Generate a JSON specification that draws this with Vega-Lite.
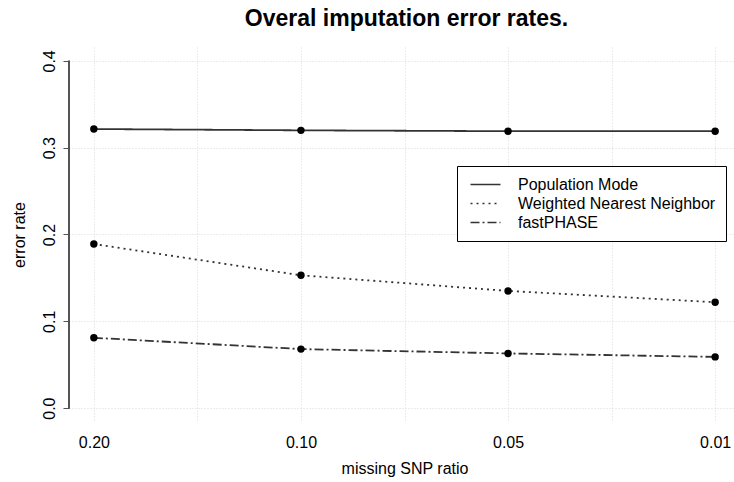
{
  "$schema": "https://vega.github.io/schema/vega-lite/v6.json",
  "autosize": "none",
  "width": 671,
  "height": 375,
  "padding": {"left": 69, "top": 47, "right": 0, "bottom": 60},
  "background": "white",
  "config": {
    "font": "Liberation Sans",
    "view": {"stroke": null},
    "axis": {"labelFont": "Liberation Sans", "titleFont": "Liberation Sans", "labelColor": "black", "titleColor": "black", "labelFontSize": 16, "titleFontSize": 16, "titleFontWeight": "normal"}
  },
  "title": {"text": "Overal imputation error rates.", "fontSize": 23, "fontWeight": "bold", "font": "Liberation Sans", "anchor": "middle", "offset": 16, "dx": 2, "color": "black"},
  "data": {"values": [
    {"idx": 1, "rate": 0.3215, "series": "Population Mode"},
    {"idx": 2, "rate": 0.3200, "series": "Population Mode"},
    {"idx": 3, "rate": 0.3190, "series": "Population Mode"},
    {"idx": 4, "rate": 0.3190, "series": "Population Mode"},
    {"idx": 1, "rate": 0.189, "series": "Weighted Nearest Neighbor"},
    {"idx": 2, "rate": 0.153, "series": "Weighted Nearest Neighbor"},
    {"idx": 3, "rate": 0.135, "series": "Weighted Nearest Neighbor"},
    {"idx": 4, "rate": 0.122, "series": "Weighted Nearest Neighbor"},
    {"idx": 1, "rate": 0.081, "series": "fastPHASE"},
    {"idx": 2, "rate": 0.068, "series": "fastPHASE"},
    {"idx": 3, "rate": 0.063, "series": "fastPHASE"},
    {"idx": 4, "rate": 0.059, "series": "fastPHASE"}
  ]},
  "layer": [
    {
      "mark": {"type": "rule", "color": "#555", "strokeWidth": 1},
      "encoding": {"x": {"datum": 0.88, "type": "quantitative"}, "y": {"datum": 0, "type": "quantitative"}, "y2": {"datum": 0.4}}
    },
    {
      "mark": {"type": "line", "color": "#333", "strokeWidth": 1.8},
      "encoding": {
        "x": {"field": "idx", "type": "quantitative",
          "scale": {"domain": [0.88, 4.12], "nice": false, "zero": false},
          "axis": {"values": [1, 1.5, 2, 2.5, 3, 3.5, 4], "domain": false, "ticks": false, "labelPadding": 12,
            "labelExpr": "datum.value == 1 ? '0.20' : datum.value == 2 ? '0.10' : datum.value == 3 ? '0.05' : datum.value == 4 ? '0.01' : ''",
            "grid": true, "gridColor": "#d8d8d8", "gridDash": [1, 2], "gridWidth": 1,
            "title": "missing SNP ratio", "titlePadding": 10}},
        "y": {"field": "rate", "type": "quantitative",
          "scale": {"domain": [-0.016, 0.416], "nice": false, "zero": false},
          "axis": {"values": [0, 0.1, 0.2, 0.3, 0.4], "format": ".1f", "domain": false, "tickColor": "#555", "tickSize": 6,
            "labelAngle": 270, "labelAlign": "center", "labelBaseline": "bottom", "labelPadding": 6,
            "grid": true, "gridColor": "#d8d8d8", "gridDash": [1, 2], "gridWidth": 1,
            "title": "error rate", "titlePadding": 14}},
        "strokeDash": {"field": "series", "type": "nominal",
          "scale": {"domain": ["Population Mode", "Weighted Nearest Neighbor", "fastPHASE"], "range": [[1, 0], [2, 4], [9, 3, 2, 3]]},
          "legend": {"title": null, "orient": "none", "legendX": 388, "legendY": 119, "strokeColor": "black", "fillColor": "white",
            "padding": 10, "labelFontSize": 16, "labelFont": "Liberation Sans", "labelColor": "black", "labelLimit": 0,
            "symbolType": "M-2,0H2", "symbolSize": 225, "symbolOffset": 10,
            "symbolStrokeWidth": 1.6, "symbolStrokeColor": "#333", "labelOffset": 24, "rowPadding": 2}}
      }
    },
    {
      "mark": {"type": "point", "filled": true, "color": "black", "size": 55, "opacity": 1},
      "encoding": {
        "x": {"field": "idx", "type": "quantitative"},
        "y": {"field": "rate", "type": "quantitative"}
      }
    }
  ]
}
